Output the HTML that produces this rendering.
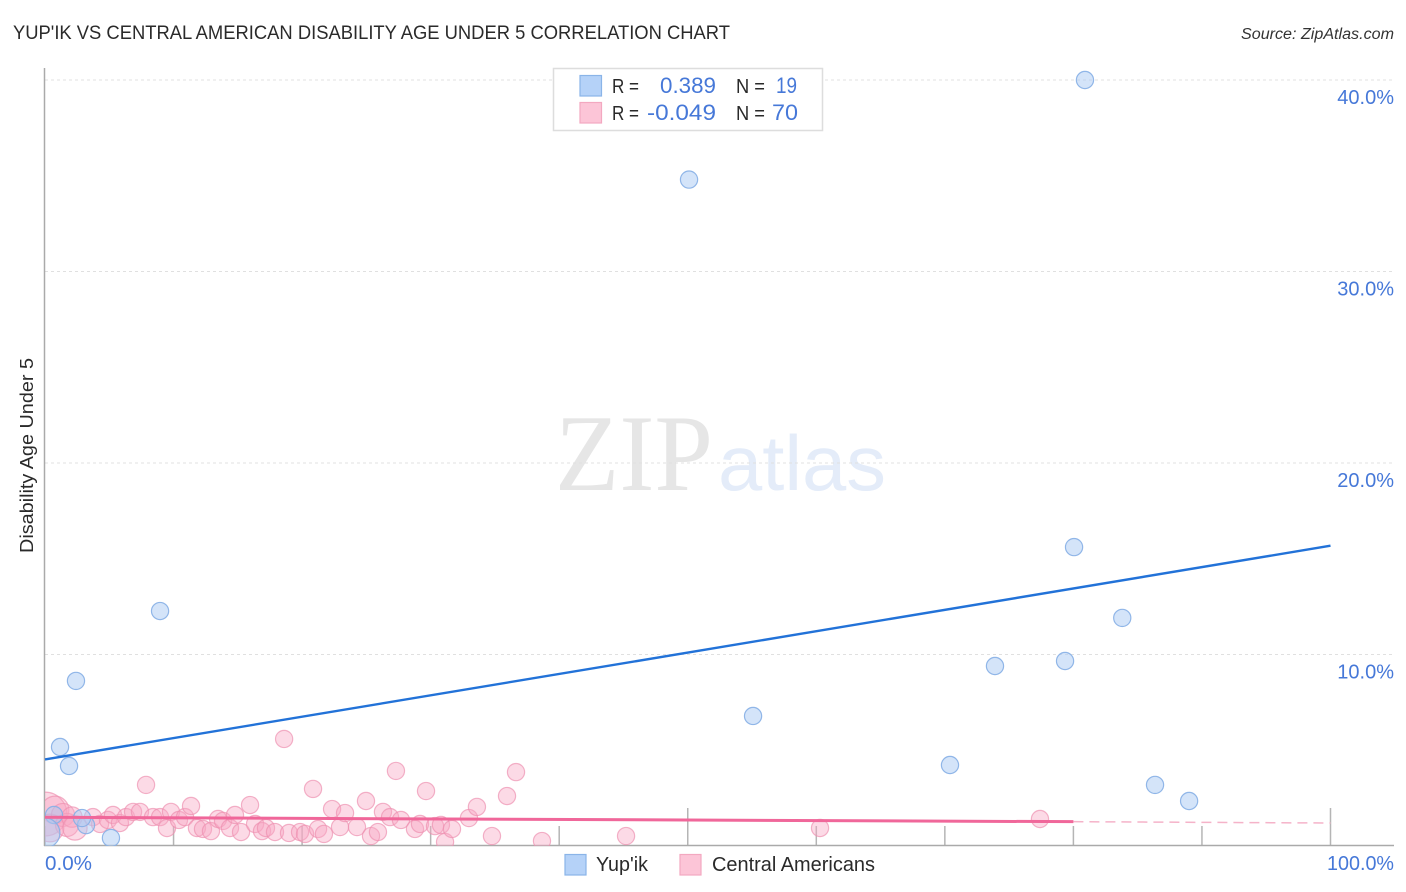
<!DOCTYPE html>
<html lang="en">
<head>
<meta charset="utf-8">
<title>Yup'ik vs Central American Disability Age Under 5 Correlation Chart</title>
<style>
html,body{margin:0;padding:0;background:#fff;width:1406px;height:892px;overflow:hidden}
svg{display:block;font-family:"Liberation Sans",sans-serif}
</style>
</head>
<body>
<svg id="chart" width="1406" height="892" viewBox="0 0 1406 892" xmlns="http://www.w3.org/2000/svg">
  <defs><clipPath id="plot-clip"><rect x="45" y="60" width="1349" height="786"/></clipPath></defs>
  <text x="13" y="39" font-size="19" fill="#2a2a2a" textLength="717" lengthAdjust="spacingAndGlyphs">YUP'IK VS CENTRAL AMERICAN DISABILITY AGE UNDER 5 CORRELATION CHART</text>
  <text x="1241" y="39" font-size="15.5" font-style="italic" fill="#333" textLength="153" lengthAdjust="spacingAndGlyphs">Source: ZipAtlas.com</text>
  <text x="555" y="490" font-family="'Liberation Serif',serif" font-size="109" fill="#e6e6e6" textLength="158" lengthAdjust="spacingAndGlyphs">ZIP</text>
  <text x="718" y="490" font-size="78" fill="#e4ecf9" textLength="168" lengthAdjust="spacingAndGlyphs">atlas</text>
  <g id="grid"></g>
  <g id="xticks"></g>
  <line x1="44.5" y1="68" x2="44.5" y2="846" stroke="#aaa" stroke-width="1.5"/>
  <line x1="44" y1="845.5" x2="1394" y2="845.5" stroke="#aaa" stroke-width="1.5"/>
  <g id="points" clip-path="url(#plot-clip)"></g>
  <g id="trends"></g>
  <g id="ylabels"></g>
  <text x="45" y="870" font-size="20" fill="#4678d8" textLength="47" lengthAdjust="spacingAndGlyphs">0.0%</text>
  <text x="1327" y="870" font-size="20" fill="#4678d8" textLength="67" lengthAdjust="spacingAndGlyphs">100.0%</text>
  <text transform="translate(33,553) rotate(-90)" font-size="18" fill="#2a2a2a" textLength="195" lengthAdjust="spacingAndGlyphs">Disability Age Under 5</text>

  <g>
    <rect x="553.5" y="68.5" width="269" height="62" fill="#fff" stroke="#ddd" stroke-width="1.5"/>
    <rect x="580" y="75.5" width="21.5" height="20.5" fill="#b5d2f8" stroke="#8ab4e8" stroke-width="1.2"/>
    <rect x="580" y="102.5" width="21.5" height="20.5" fill="#fcc5d7" stroke="#f3a8c0" stroke-width="1.2"/>
    <text x="612" y="93" font-size="20" fill="#2a2a2a" textLength="27" lengthAdjust="spacingAndGlyphs">R =</text>
    <text x="660" y="93" font-size="22" fill="#4678d8" textLength="56" lengthAdjust="spacingAndGlyphs">0.389</text>
    <text x="736" y="93" font-size="20" fill="#2a2a2a" textLength="29" lengthAdjust="spacingAndGlyphs">N =</text>
    <text x="776" y="93" font-size="22" fill="#4678d8" textLength="21" lengthAdjust="spacingAndGlyphs">19</text>
    <text x="612" y="120" font-size="20" fill="#2a2a2a" textLength="27" lengthAdjust="spacingAndGlyphs">R =</text>
    <text x="647" y="120" font-size="22" fill="#4678d8" textLength="69" lengthAdjust="spacingAndGlyphs">-0.049</text>
    <text x="736" y="120" font-size="20" fill="#2a2a2a" textLength="29" lengthAdjust="spacingAndGlyphs">N =</text>
    <text x="772" y="120" font-size="22" fill="#4678d8" textLength="26" lengthAdjust="spacingAndGlyphs">70</text>
  </g>

  <g>
    <rect x="565" y="854.5" width="21" height="20.5" fill="#b5d2f8" stroke="#8ab4e8" stroke-width="1.2"/>
    <text x="596" y="871" font-size="20" fill="#2a2a2a" textLength="52" lengthAdjust="spacingAndGlyphs">Yup'ik</text>
    <rect x="680" y="854.5" width="21" height="20.5" fill="#fcc5d7" stroke="#f3a8c0" stroke-width="1.2"/>
    <text x="712" y="871" font-size="20" fill="#2a2a2a" textLength="163" lengthAdjust="spacingAndGlyphs">Central Americans</text>
  </g>
</svg>
<script>
// Values are percentages.
const yTicks = [10, 20, 30, 40];
const yTickLabels = ["10.0%", "20.0%", "30.0%", "40.0%"];
const xTicks = [0, 10, 20, 30, 40, 50, 60, 70, 80, 90, 100];
const xMajorTicks = [50, 100];

const yupikX = [80.9, 50.1, 8.95, 2.41, 1.17, 1.87, 80.05, 83.8, 79.35, 73.9, 55.08, 70.4, 86.35, 89.0, 5.13, 3.19, 0.7, 0, 2.88];
const yupikY = [40.0, 34.8, 12.27, 8.62, 5.17, 4.18, 15.61, 11.91, 9.66, 9.40, 6.79, 4.23, 3.19, 2.35, 0.42, 1.09, 1.62, 0.68, 1.46];
const yupikWeight = [1, 1, 1, 1, 1, 1, 1, 1, 1, 1, 1, 1, 1, 1, 1, 1, 1, 3, 1];

const centralX = [0, 0.78, 0.39, 1.4, 1.71, 2.1, 2.33, 3.73, 4.28, 4.9, 5.29, 5.83, 6.3, 6.85, 7.39, 7.86, 8.4, 8.95, 9.49, 9.8, 10.42, 10.89, 11.36, 11.82, 12.29, 12.91, 13.46, 13.85, 14.39, 14.78, 15.25, 15.95, 16.34, 16.88, 17.19, 17.89, 18.6, 18.98, 19.84, 20.23, 20.85, 21.24, 21.7, 22.33, 22.95, 23.34, 24.27, 24.97, 25.36, 25.9, 26.29, 26.84, 27.3, 27.69, 28.78, 29.17, 29.64, 30.34, 30.8, 31.12, 31.66, 32.98, 33.6, 34.77, 35.94, 36.64, 38.66, 45.2, 60.29, 77.4];
const centralY = [1.67, 1.88, 0.94, 1.62, 1.1, 1.51, 0.94, 1.51, 1.15, 1.36, 1.62, 1.2, 1.51, 1.78, 1.78, 3.19, 1.51, 1.51, 0.94, 1.78, 1.36, 1.51, 2.09, 0.94, 0.89, 0.78, 1.41, 1.31, 0.94, 1.62, 0.73, 2.14, 1.15, 0.78, 0.94, 0.73, 5.59, 0.68, 0.73, 0.63, 2.98, 0.89, 0.63, 1.93, 0.99, 1.72, 0.99, 2.35, 0.52, 0.73, 1.78, 1.51, 3.92, 1.36, 0.89, 1.15, 2.87, 1.04, 1.1, 0.21, 0.89, 1.46, 2.04, 0.52, 2.61, 3.86, 0.26, 0.52, 0.94, 1.41];
const centralWeight = [6.5, 2.6, 2.6, 1.8, 1.8, 1.4, 2, 1, 1, 1, 1, 1, 1, 1, 1, 1, 1, 1, 1, 1, 1, 1, 1, 1, 1, 1, 1, 1, 1, 1, 1, 1, 1, 1, 1, 1, 1, 1, 1, 1, 1, 1, 1, 1, 1, 1, 1, 1, 1, 1, 1, 1, 1, 1, 1, 1, 1, 1, 1, 1, 1, 1, 1, 1, 1, 1, 1, 1, 1, 1];

const yupikTrendX = [0, 100];
const yupikTrendY = [4.52, 15.68];
const centralTrendSolidX = [0, 80];
const centralTrendSolidY = [1.50, 1.27];
const centralTrendDashX = [80, 100];
const centralTrendDashY = [1.27, 1.20];

const NS = "http://www.w3.org/2000/svg";
const xScale = v => 45 + v * 12.855;
const yScale = v => 846 - v * 19.15;
function mk(tag, parent, attrs) {
  const el = document.createElementNS(NS, tag);
  for (const k in attrs) el.setAttribute(k, attrs[k]);
  parent.appendChild(el);
  return el;
}

const gridG = document.getElementById("grid");
const ylabG = document.getElementById("ylabels");
yTicks.forEach((t, i) => {
  const line = mk("line", gridG, {x1: 45, x2: 1394, y1: yScale(t), y2: yScale(t), stroke: "#e0e0e0", "stroke-width": 1, "stroke-dasharray": "3 3"});
  
  
  const label = mk("text", ylabG, {x: 1394, y: yScale(t) + 24, "font-size": 20, fill: "#4678d8", "text-anchor": "end"});
  label.textContent = yTickLabels[i];
  
  
});

const tickG = document.getElementById("xticks");
xTicks.forEach(t => {
  const top = xMajorTicks.includes(t) ? 808 : 826;
  const tick = mk("line", tickG, {x1: xScale(t), x2: xScale(t), y1: top, y2: 846, stroke: "#b5b5b5", "stroke-width": 1.5});
  
  
});

const ptsG = document.getElementById("points");
centralX.forEach((x, i) => {
  const c = mk("circle", ptsG, {cx: xScale(x), cy: yScale(centralY[i]), r: 8.6 * Math.sqrt(centralWeight[i]), fill: "#f9a8c4", "fill-opacity": 0.42, stroke: "#ee8fb0", "stroke-opacity": 0.68, "stroke-width": 1.2});
  
  
});
yupikX.forEach((x, i) => {
  const c = mk("circle", ptsG, {cx: xScale(x), cy: yScale(yupikY[i]), r: 8.6 * Math.sqrt(yupikWeight[i]), fill: "#a9caf4", "fill-opacity": 0.5, stroke: "#86afe6", "stroke-opacity": 0.9, "stroke-width": 1.2});
  
  
});

const trendG = document.getElementById("trends");
const blueLine = mk("line", trendG, {x1: xScale(yupikTrendX[0]), y1: yScale(yupikTrendY[0]), x2: xScale(yupikTrendX[1]), y2: yScale(yupikTrendY[1]), stroke: "#2272d8", "stroke-width": 2.4});


const pinkLine = mk("line", trendG, {x1: xScale(centralTrendSolidX[0]), y1: yScale(centralTrendSolidY[0]), x2: xScale(centralTrendSolidX[1]), y2: yScale(centralTrendSolidY[1]), stroke: "#f0679a", "stroke-width": 3});


const pinkDash = mk("line", trendG, {x1: xScale(centralTrendDashX[0]), y1: yScale(centralTrendDashY[0]), x2: xScale(centralTrendDashX[1]), y2: yScale(centralTrendDashY[1]), stroke: "#f5b3c9", "stroke-width": 1.5, "stroke-dasharray": "10 6"});


</script>
</body>
</html>
